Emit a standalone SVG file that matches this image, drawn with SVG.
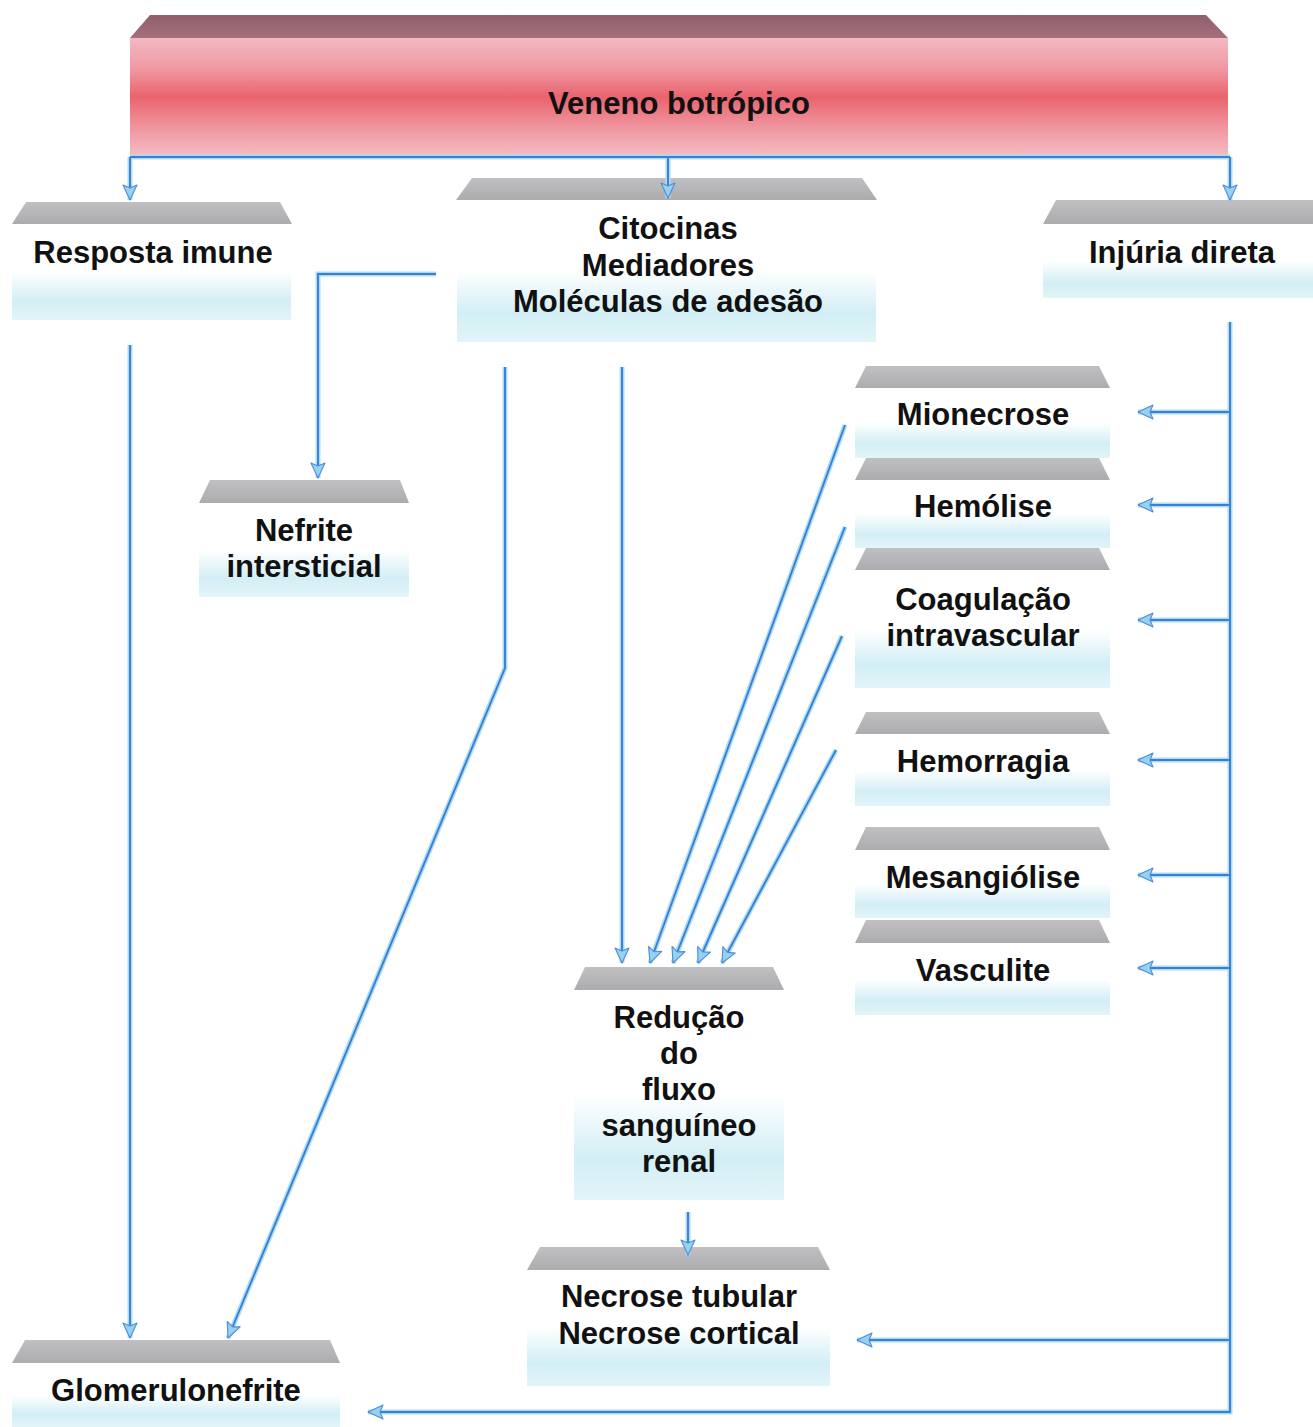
<svg xmlns="http://www.w3.org/2000/svg" xmlns:xlink="http://www.w3.org/1999/xlink" width="1313" height="1427" viewBox="0 0 1313 1427">
  <style>
    .lbl { font-family: "Liberation Sans", Arial, "DejaVu Sans", sans-serif; font-weight: bold; font-size: 31px; fill: #111111; text-anchor: middle; }
    .cap { fill: url(#capGrad); }
    .body { fill: url(#bodyGrad); }
    .halo { fill: none; stroke: #a9dcf3; stroke-width: 5; stroke-linejoin: miter; }
    .core { fill: none; stroke: #3c7ed2; stroke-width: 1.9; stroke-linejoin: miter; }
    .arrow { marker-end: url(#head); }
  </style>
  <defs>
    <linearGradient id="capGrad" x1="0" y1="0" x2="0" y2="1">
      <stop offset="0" stop-color="#c0c0c2"/>
      <stop offset="1" stop-color="#acacae"/>
    </linearGradient>
    <linearGradient id="bodyGrad" x1="0" y1="0" x2="0" y2="1">
      <stop offset="0" stop-color="#ffffff"/>
      <stop offset="0.5" stop-color="#ffffff"/>
      <stop offset="0.8" stop-color="#d2eef5"/>
      <stop offset="1" stop-color="#e2f5f9"/>
    </linearGradient>
    <linearGradient id="venomGrad" x1="0" y1="0" x2="0" y2="1">
      <stop offset="0" stop-color="#f3b9c2"/>
      <stop offset="0.25" stop-color="#f09aa4"/>
      <stop offset="0.5" stop-color="#e9646e"/>
      <stop offset="0.75" stop-color="#ef949d"/>
      <stop offset="1" stop-color="#f5bcc3"/>
    </linearGradient>
    <linearGradient id="venomCap" x1="0" y1="0" x2="0" y2="1">
      <stop offset="0" stop-color="#8f5f6b"/>
      <stop offset="1" stop-color="#a4707c"/>
    </linearGradient>
    <marker id="head" markerUnits="userSpaceOnUse" markerWidth="18" markerHeight="16" refX="16" refY="8" orient="auto" overflow="visible">
      <path d="M1,1 L16,8 L1,15 L4,8 Z" fill="#94d2f0" stroke="#4f8cd4" stroke-width="1.1" stroke-linejoin="round"/>
    </marker>

    <!-- connector geometry, shared by the halo and core strokes -->
    <path id="c-bus" d="M130,157 H1230"/>
    <path id="c-d1" d="M130,157 V200"/>
    <path id="c-d2" d="M668,157 V198"/>
    <path id="c-d3" d="M1230,157 V200"/>
    <path id="c-rg" d="M130,345 V1338"/>
    <path id="c-cn" d="M436,274 H318 V478"/>
    <path id="c-cg" d="M505,367 V668 L228,1338"/>
    <path id="c-cr" d="M622,367 V963"/>
    <path id="c-mr" d="M845,425 L650,963"/>
    <path id="c-hr" d="M845,527 L673,963"/>
    <path id="c-vr" d="M842,636 L698,963"/>
    <path id="c-gr" d="M836,750 L722,963"/>
    <path id="c-ib" d="M1230,322 V1412 H368"/>
    <path id="c-b1" d="M1230,412 H1138"/>
    <path id="c-b2" d="M1230,505 H1138"/>
    <path id="c-b3" d="M1230,620 H1138"/>
    <path id="c-b4" d="M1230,760 H1138"/>
    <path id="c-b5" d="M1230,875 H1138"/>
    <path id="c-b6" d="M1230,968 H1138"/>
    <path id="c-b7" d="M1230,1340 H857"/>
    <path id="c-rn" d="M688,1212 V1255"/>
  </defs>

  <rect width="1313" height="1427" fill="#ffffff"/>

  <!-- Veneno botrópico -->
  <g id="n-veneno">
    <polygon points="150,15 1206,15 1228,38 130,38" fill="url(#venomCap)"/>
    <rect x="130" y="38" width="1098" height="118" fill="url(#venomGrad)"/>
    <text class="lbl" x="679" y="114">Veneno botrópico</text>
  </g>

  <g id="n-resposta">
    <rect class="body" x="12" y="224" width="279" height="96"/>
    <polygon class="cap" points="26,202 280,202 292,224 12,224"/>
    <text class="lbl" x="153" y="263">Resposta imune</text>
  </g>

  <g id="n-citocinas">
    <rect class="body" x="457" y="200" width="419" height="142"/>
    <polygon class="cap" points="472,178 862,178 877,200 456,200"/>
    <text class="lbl" x="668" y="239">Citocinas</text>
    <text class="lbl" x="668" y="276">Mediadores</text>
    <text class="lbl" x="668" y="312">Moléculas de adesão</text>
  </g>

  <g id="n-injuria">
    <rect class="body" x="1043" y="224" width="270" height="74"/>
    <polygon class="cap" points="1056,200 1313,200 1313,224 1043,224"/>
    <text class="lbl" x="1182" y="263">Injúria direta</text>
  </g>

  <g id="n-nefrite">
    <rect class="body" x="199" y="503" width="210" height="94"/>
    <polygon class="cap" points="210,480 400,480 409,503 199,503"/>
    <text class="lbl" x="304" y="541">Nefrite</text>
    <text class="lbl" x="304" y="577">intersticial</text>
  </g>

  <g id="n-mionecrose">
    <rect class="body" x="855" y="388" width="255" height="70"/>
    <polygon class="cap" points="866,366 1099,366 1110,388 855,388"/>
    <text class="lbl" x="983" y="425">Mionecrose</text>
  </g>

  <g id="n-hemolise">
    <rect class="body" x="855" y="480" width="255" height="68"/>
    <polygon class="cap" points="866,458 1099,458 1110,480 855,480"/>
    <text class="lbl" x="983" y="517">Hemólise</text>
  </g>

  <g id="n-coagulacao">
    <rect class="body" x="855" y="570" width="255" height="118"/>
    <polygon class="cap" points="866,548 1099,548 1110,570 855,570"/>
    <text class="lbl" x="983" y="610">Coagulação</text>
    <text class="lbl" x="983" y="646">intravascular</text>
  </g>

  <g id="n-hemorragia">
    <rect class="body" x="855" y="734" width="255" height="72"/>
    <polygon class="cap" points="866,712 1099,712 1110,734 855,734"/>
    <text class="lbl" x="983" y="772">Hemorragia</text>
  </g>

  <g id="n-mesangiolise">
    <rect class="body" x="855" y="850" width="255" height="68"/>
    <polygon class="cap" points="866,827 1099,827 1110,850 855,850"/>
    <text class="lbl" x="983" y="888">Mesangiólise</text>
  </g>

  <g id="n-vasculite">
    <rect class="body" x="855" y="943" width="255" height="72"/>
    <polygon class="cap" points="866,920 1099,920 1110,943 855,943"/>
    <text class="lbl" x="983" y="981">Vasculite</text>
  </g>

  <g id="n-reducao">
    <rect class="body" x="574" y="990" width="210" height="210"/>
    <polygon class="cap" points="585,967 773,967 784,990 574,990"/>
    <text class="lbl" x="679" y="1028">Redução</text>
    <text class="lbl" x="679" y="1064">do</text>
    <text class="lbl" x="679" y="1100">fluxo</text>
    <text class="lbl" x="679" y="1136">sanguíneo</text>
    <text class="lbl" x="679" y="1172">renal</text>
  </g>

  <g id="n-necrose">
    <rect class="body" x="527" y="1270" width="303" height="116"/>
    <polygon class="cap" points="540,1247 818,1247 830,1270 527,1270"/>
    <text class="lbl" x="679" y="1307">Necrose tubular</text>
    <text class="lbl" x="679" y="1344">Necrose cortical</text>
  </g>

  <g id="n-glomerulonefrite">
    <rect class="body" x="12" y="1363" width="328" height="64"/>
    <polygon class="cap" points="25,1340 330,1340 340,1363 12,1363"/>
    <text class="lbl" x="176" y="1401">Glomerulonefrite</text>
  </g>

  <!-- connectors: light halo underneath, blue core line with arrowheads on top -->
  <g id="connectors">
    <g class="halo">
      <use xlink:href="#c-bus"/><use xlink:href="#c-d1"/><use xlink:href="#c-d2"/><use xlink:href="#c-d3"/>
      <use xlink:href="#c-rg"/><use xlink:href="#c-cn"/><use xlink:href="#c-cg"/><use xlink:href="#c-cr"/>
      <use xlink:href="#c-mr"/><use xlink:href="#c-hr"/><use xlink:href="#c-vr"/><use xlink:href="#c-gr"/>
      <use xlink:href="#c-ib"/><use xlink:href="#c-b1"/><use xlink:href="#c-b2"/><use xlink:href="#c-b3"/>
      <use xlink:href="#c-b4"/><use xlink:href="#c-b5"/><use xlink:href="#c-b6"/><use xlink:href="#c-b7"/>
      <use xlink:href="#c-rn"/>
    </g>
    <g class="core">
      <use xlink:href="#c-bus"/>
      <g class="arrow">
        <use xlink:href="#c-d1"/><use xlink:href="#c-d2"/><use xlink:href="#c-d3"/>
        <use xlink:href="#c-rg"/><use xlink:href="#c-cn"/><use xlink:href="#c-cg"/><use xlink:href="#c-cr"/>
        <use xlink:href="#c-mr"/><use xlink:href="#c-hr"/><use xlink:href="#c-vr"/><use xlink:href="#c-gr"/>
        <use xlink:href="#c-ib"/><use xlink:href="#c-b1"/><use xlink:href="#c-b2"/><use xlink:href="#c-b3"/>
        <use xlink:href="#c-b4"/><use xlink:href="#c-b5"/><use xlink:href="#c-b6"/><use xlink:href="#c-b7"/>
        <use xlink:href="#c-rn"/>
      </g>
    </g>
  </g>
</svg>
